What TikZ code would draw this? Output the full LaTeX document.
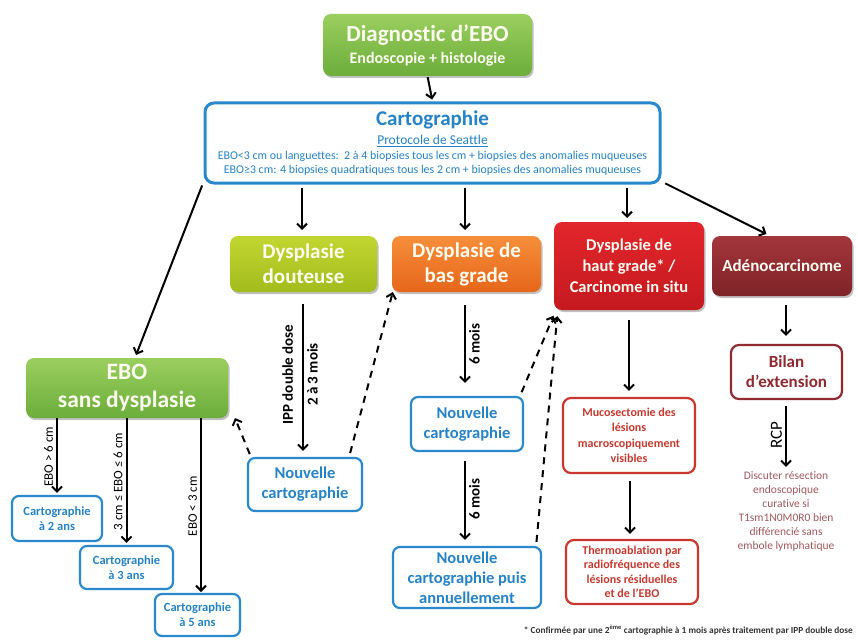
\documentclass[tikz,border=0pt]{standalone}
\usepackage{fontspec}
\setmainfont{Carlito}[Ligatures=NoCommon]
\usetikzlibrary{arrows.meta,shadows}
\definecolor{grT}{HTML}{9ACF5E}
\definecolor{grB}{HTML}{6CAD3B}
\definecolor{ygT}{HTML}{C2D630}
\definecolor{ygB}{HTML}{A2BC1D}
\definecolor{orT}{HTML}{F68E3A}
\definecolor{orB}{HTML}{E6661A}
\definecolor{rdT}{HTML}{E2262C}
\definecolor{rdB}{HTML}{C4191F}
\definecolor{drT}{HTML}{A3363C}
\definecolor{drB}{HTML}{7E2227}
\definecolor{bl}{HTML}{2A89CD}
\definecolor{blt}{HTML}{2683C6}
\definecolor{rline}{HTML}{C9372E}
\definecolor{rtext}{HTML}{C43A30}
\definecolor{drline}{HTML}{8E2A30}
\definecolor{mauve}{HTML}{A2585D}
\definecolor{cream}{HTML}{FBFBEF}
\tikzset{
  fillbox/.style 2 args={rounded corners=8pt, align=center, text=cream,
    top color=#1, bottom color=#2, draw=none, inner sep=2pt,
    drop shadow={shadow xshift=1.5pt, shadow yshift=-2pt, opacity=0.35, fill=black!70}},
  bluebox/.style={rounded corners=7pt, align=center, draw=bl, line width=2.2pt,
    fill=white, text=blt, font=\bfseries, inner sep=2pt},
  redbox/.style={rounded corners=8pt, align=center, draw=rline, line width=2.2pt,
    fill=white, text=rtext, font=\bfseries, inner sep=2pt},
  arr/.style={line width=2pt, -{Straight Barb[length=5pt,width=10pt]}},
  darr/.style={line width=2pt, dash pattern=on 7pt off 6pt, -{Straight Barb[length=5pt,width=10pt]}},
  lab/.style={font=\fontsize{15}{17}\selectfont\bfseries, rotate=90, inner sep=3pt},
  labr/.style={font=\fontsize{13}{15}\selectfont, rotate=90, inner sep=3pt}
}
\begin{document}
\begin{tikzpicture}[x=1pt,y=-1pt]
\useasboundingbox (0,0) rectangle (858,639);

% top
\node[fillbox={grT}{grB}, minimum width=209pt, minimum height=62pt, font=\fontsize{16}{22}\selectfont\bfseries] (diag) at (427.5,45)
  {{\fontsize{23}{25}\selectfont Diagnostic d’EBO}\\Endoscopie + histologie};

\node[rounded corners=9pt, draw=bl, line width=3pt, fill=white, align=center, text=blt,
  minimum width=455pt, minimum height=80pt, inner sep=1pt, font=\fontsize{11.9}{13.5}\selectfont] (carto) at (432.5,143)
  {{\fontsize{21}{22}\selectfont\bfseries Cartographie}\\[5.5pt]
   {\fontsize{13.5}{14}\selectfont\underline{Protocole de Seattle}}\\[2pt]
   EBO<3 cm ou languettes:\ \ 2 à 4 biopsies tous les cm + biopsies des anomalies muqueuses\\
   EBO≥3 cm: 4 biopsies quadratiques tous les 2 cm + biopsies des anomalies muqueuses};

% second row
\node[fillbox={ygT}{ygB}, minimum width=147pt, minimum height=56pt, font=\fontsize{21}{25}\selectfont\bfseries] (dd) at (303.5,264) {Dysplasie\\douteuse};
\node[fillbox={orT}{orB}, minimum width=149pt, minimum height=56pt, font=\fontsize{21}{25}\selectfont\bfseries] (dbg) at (466.5,264) {Dysplasie de\\bas grade};
\node[fillbox={rdT}{rdB}, minimum width=150pt, minimum height=88pt, font=\fontsize{16.5}{21}\selectfont\bfseries] (dhg) at (629,266) {Dysplasie de\\haut grade* /\\Carcinome in situ};
\node[fillbox={drT}{drB}, minimum width=140pt, minimum height=60pt, font=\fontsize{17}{19}\selectfont\bfseries] (adeno) at (782,266) {Adénocarcinome};

\node[fillbox={grT}{grB}, minimum width=202pt, minimum height=60pt, font=\fontsize{23.5}{28}\selectfont\bfseries] (ebo) at (127,388) {EBO\\sans dysplasie};

% EBO children
\node[bluebox, minimum width=90pt, minimum height=45pt, font=\fontsize{12.5}{15}\selectfont\bfseries] (c2) at (57,518.5) {Cartographie\\à 2 ans};
\node[bluebox, minimum width=93pt, minimum height=43pt, font=\fontsize{12.5}{15}\selectfont\bfseries] (c3) at (126.5,567.5) {Cartographie\\à 3 ans};
\node[bluebox, minimum width=85pt, minimum height=42pt, font=\fontsize{12.5}{15}\selectfont\bfseries] (c5) at (197.5,615) {Cartographie\\à 5 ans};

% nouvelles cartographies
\node[bluebox, minimum width=114pt, minimum height=53pt, font=\fontsize{16.5}{20}\selectfont\bfseries] (nc1) at (305,484.5) {Nouvelle\\cartographie};
\node[bluebox, minimum width=112pt, minimum height=54pt, font=\fontsize{16.5}{20}\selectfont\bfseries] (nc2) at (467,424) {Nouvelle\\cartographie};
\node[bluebox, minimum width=148pt, minimum height=61pt, font=\fontsize{16.5}{20}\selectfont\bfseries] (nc3) at (467,577.5) {Nouvelle\\cartographie puis\\annuellement};

% red column
\node[redbox, minimum width=132pt, minimum height=75pt, font=\fontsize{12}{15.5}\selectfont\bfseries] (muco) at (629,435.5) {Mucosectomie des\\lésions\\macroscopiquement\\visibles};
\node[redbox, minimum width=132pt, minimum height=64pt, font=\fontsize{12}{14.5}\selectfont\bfseries] (thermo) at (632,572) {Thermoablation par\\radiofréquence des\\lésions résiduelles\\et de l’EBO};

% adeno column
\node[rounded corners=8pt, align=center, draw=drline, line width=2.2pt, fill=white, text=drline,
  minimum width=111pt, minimum height=54pt, font=\fontsize{17}{20}\selectfont\bfseries] (bilan) at (786.5,372) {Bilan\\d’extension};
\node[align=center, text=mauve, font=\fontsize{11.5}{14}\selectfont, inner sep=1pt] (disc) at (786,511)
  {Discuter résection\\endoscopique\\curative si\\T1sm1N0M0R0 bien\\différencié sans\\embole lymphatique};

% footnote
\node[anchor=east, text=black!80, font=\fontsize{9.3}{10}\selectfont\bfseries, inner sep=0pt] (foot) at (853,630)
  {* Confirmée par une 2\textsuperscript{ème} cartographie à 1 mois après traitement par IPP double dose};

% arrows from top
\draw[arr, shorten <=1pt, shorten >=2pt] (diag.south) -- (carto.north);
\draw[arr, shorten <=1pt, shorten >=3pt] ([xshift=-1pt]carto.south west) -- ([xshift=8pt]ebo.north);
\draw[arr, shorten <=3pt, shorten >=6pt] (carto.south -| 302,0) -- (302,236);
\draw[arr, shorten <=3pt, shorten >=6pt] (carto.south -| 465,0) -- (465,236);
\draw[arr, shorten <=3pt, shorten >=4pt] (carto.south -| 627,0) -- (627,222);
\draw[arr, shorten <=2pt, shorten >=4pt] ([xshift=2pt,yshift=2pt]carto.south east) -- ([xshift=-12pt]adeno.north);

% EBO branches
\draw[arr, shorten >=2pt] (ebo.south -| c2.north) -- (c2.north)
  node[labr, midway, anchor=south] {EBO > 6 cm};
\draw[arr, shorten >=2pt] (ebo.south -| c3.north) -- (c3.north)
  node[labr, midway, anchor=south] {3 cm ≤ EBO ≤ 6 cm};
\draw[arr, shorten >=2pt] (ebo.south -| 201,0) -- (201,594)
  node[labr, midway, anchor=south] {EBO < 3 cm};

% douteuse
\draw[arr, shorten <=12pt, shorten >=6pt] (dd.south -| 303,0) -- (nc1.north -| 303,0)
  node[lab, pos=0.5, anchor=south, yshift=6pt] {IPP double dose}
  node[lab, pos=0.5, anchor=north] {2 à 3 mois};
\draw[darr, shorten <=3pt, shorten >=2pt] ([xshift=4pt]nc1.north west) -- ([xshift=6pt,yshift=2pt]ebo.south east);
\draw[darr, shorten <=4pt, shorten >=4pt] ([xshift=-14pt]nc1.north east) -- ([xshift=2pt,yshift=4pt]dbg.south west);

% bas grade
\draw[arr, shorten <=13pt, shorten >=13pt] (dbg.south -| 465,0) -- (nc2.north -| 465,0)
  node[lab, midway, anchor=north] {6 mois};
\draw[arr, shorten <=9pt, shorten >=6pt] (nc2.south -| 465,0) -- (nc3.north -| 465,0)
  node[lab, midway, anchor=north] {6 mois};
\draw[darr, shorten <=4pt, shorten >=6pt] ([xshift=-4pt]nc2.north east) -- ([xshift=2pt]dhg.south west);
\draw[darr, shorten <=4pt, shorten >=6pt] ([xshift=-6pt]nc3.north east) -- ([xshift=4pt]dhg.south west);

% haut grade
\draw[arr, shorten <=10pt, shorten >=6pt] (dhg.south) -- (muco.north -| dhg.south);
\draw[arr, shorten <=7pt, shorten >=5pt] (muco.south -| 630,0) -- (thermo.north -| 630,0);

% adeno
\draw[arr, shorten <=9pt, shorten >=8pt] (adeno.south -| 786,0) -- (bilan.north -| 786,0);
\draw[arr, shorten <=6pt, shorten >=3pt] (bilan.south -| 786,0) -- (disc.north -| 786,0)
  node[labr, font=\fontsize{17}{19}\selectfont, midway, anchor=south] {RCP};
\end{tikzpicture}
\end{document}
